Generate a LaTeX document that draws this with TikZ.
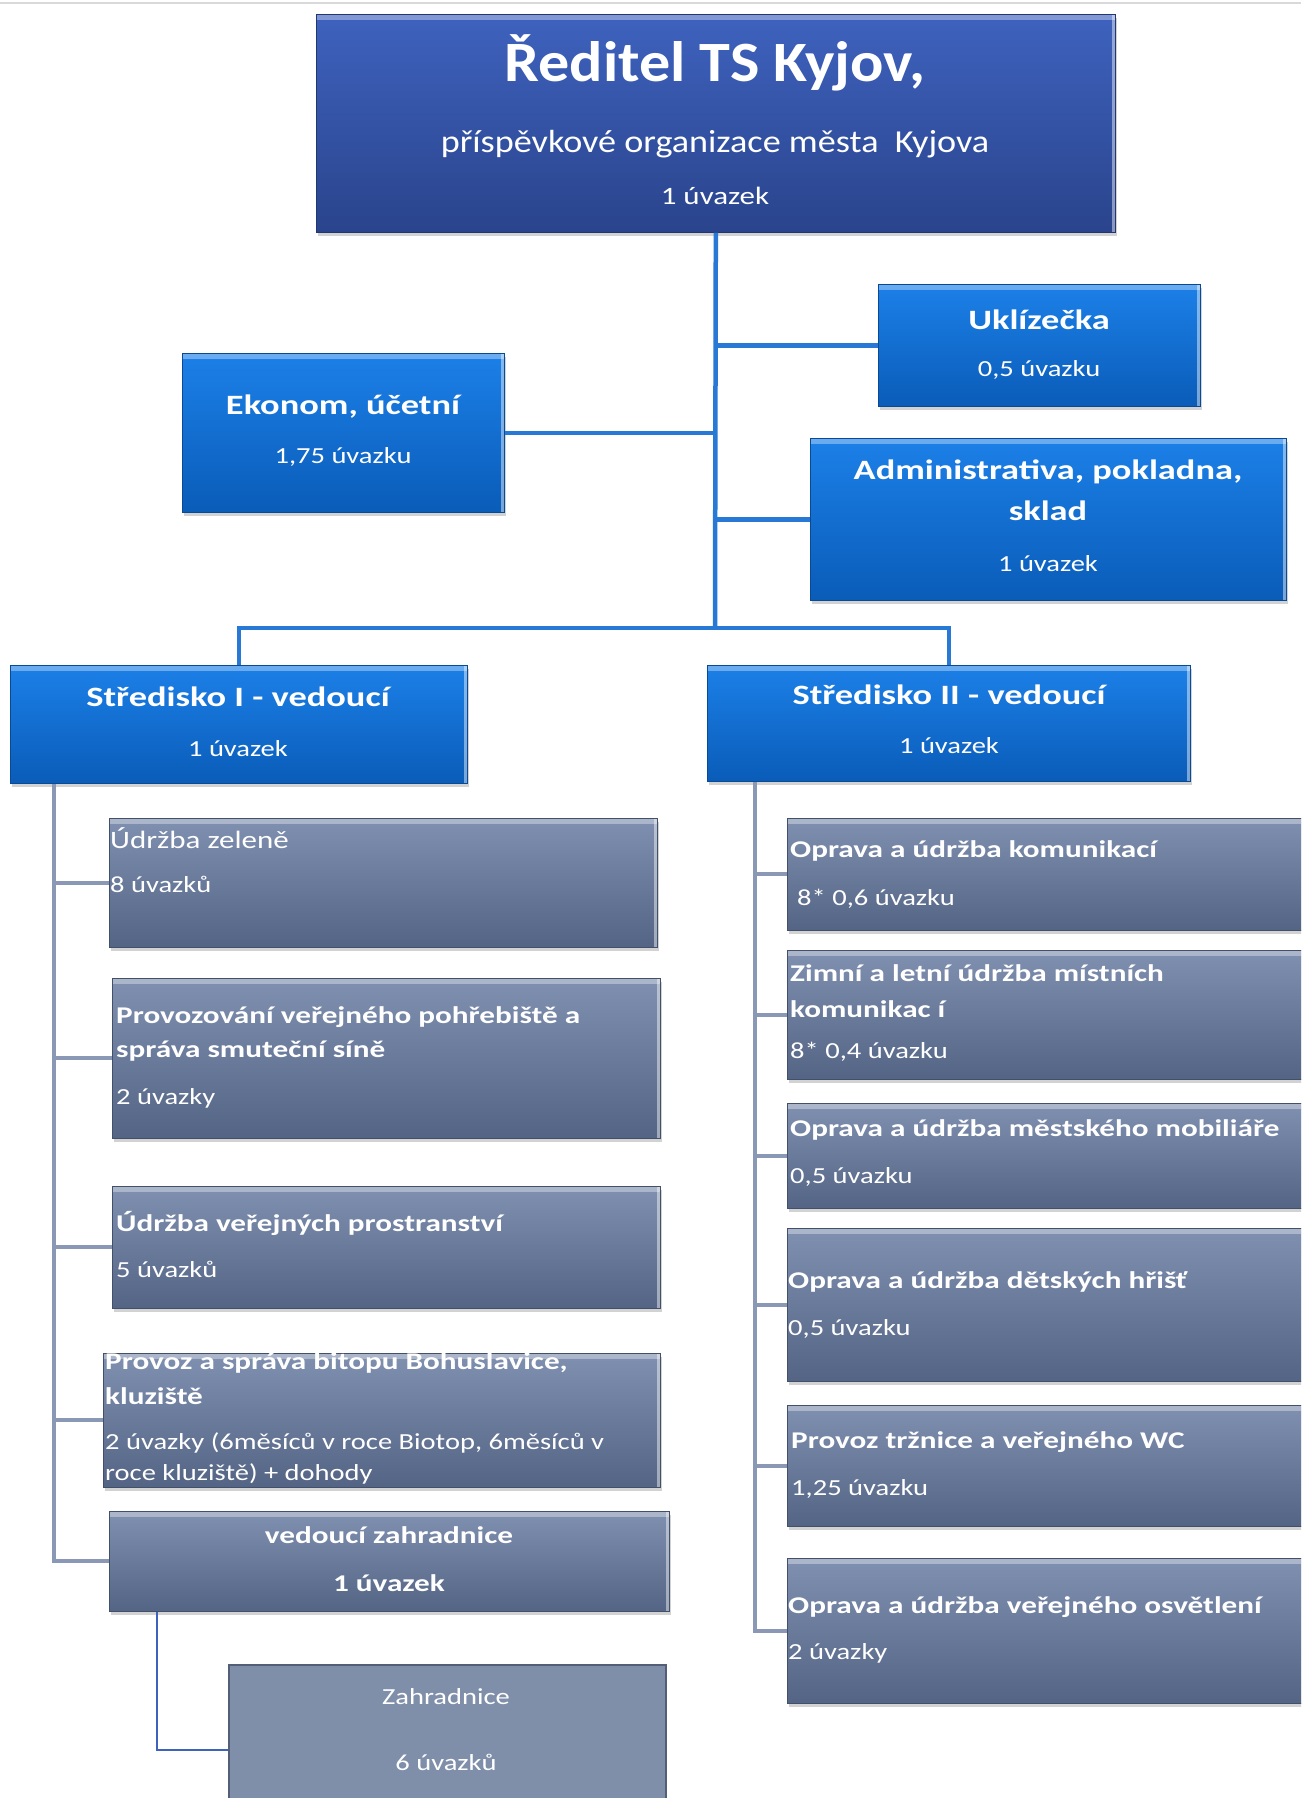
\documentclass[tikz,border=0pt]{standalone}
\usepackage{fontspec}
\setmainfont{Carlito}[FakeStretch=1.24,BoldFeatures={FakeStretch=1.3}]
\newfontfamily\headfont{Carlito}[FakeStretch=1.09]
\newfontfamily\subfont{Carlito}[FakeStretch=1.13]
\usetikzlibrary{positioning,shadows}
\definecolor{dirtop}{RGB}{62,98,190}
\definecolor{dirbot}{RGB}{42,68,140}
\definecolor{unittop}{RGB}{28,128,232}
\definecolor{unitbot}{RGB}{10,92,184}
\definecolor{tasktop}{RGB}{128,144,176}
\definecolor{taskbot}{RGB}{84,100,132}
\definecolor{linkblue}{RGB}{40,120,214}
\definecolor{linkgray}{RGB}{138,152,182}
\definecolor{zahrfill}{RGB}{127,143,170}
\definecolor{zahrdraw}{RGB}{84,94,118}

\begin{document}
\begin{tikzpicture}[x=1pt,y=-1pt,
    bevel/.style={path picture={
        \fill[white,opacity=0.35] (path picture bounding box.north west) rectangle ([yshift=-6pt]path picture bounding box.north east);
        \fill[white,opacity=0.45] ([xshift=-3pt]path picture bounding box.north east) rectangle (path picture bounding box.south east);}},
    box/.style={rectangle,anchor=north west,inner sep=0pt,line width=0.6pt,bevel,
        drop shadow={opacity=0.35,shadow xshift=2pt,shadow yshift=-4pt}},
    boss node/.style={box,top color=dirtop,bottom color=dirbot,draw=dirbot!80!black},
    unit node/.style={box,top color=unittop,bottom color=unitbot,draw=unitbot!80!black},
    task node/.style={box,top color=tasktop,bottom color=taskbot,draw=taskbot!80!black},
    txt/.style={text=white,inner sep=0pt,font=\fontsize{23}{26}\selectfont},
    ttl/.style={txt,font=\bfseries\fontsize{24}{27}\selectfont},
    big/.style={txt,font=\bfseries\fontsize{28}{31}\selectfont},
    bluelink/.style={draw=linkblue,line width=4.5pt},
    graylink/.style={draw=linkgray,line width=4pt}]
  \clip (0,0) rectangle (1301,1798);
  \fill[white] (0,0) rectangle (1301,1798);
  \draw[black!15,line width=1.5pt] (0,3) -- (1301,3);

  \coordinate (bus) at (715,628);
  \coordinate (s1) at (54,0);
  \coordinate (s2) at (755,0);
  \coordinate (zl) at (157,1750);

  % upper part
  \node[boss node,minimum width=799,minimum height=218] (dir) at (316,14) {};
  \node[unit node,minimum width=322,minimum height=122] (ukl) at (878,284) {};
  \node[unit node,minimum width=322,minimum height=159] (eko) at (182,353) {};
  \node[unit node,minimum width=476,minimum height=162] (adm) at (810,438) {};
  \node[unit node,minimum width=457,minimum height=118] (st1) at (10,665) {};
  \node[unit node,minimum width=483,minimum height=116] (st2) at (707,665) {};

  % left column
  \node[task node,minimum width=548,minimum height=129] (zel) at (109,818) {};
  \node[task node,minimum width=548,minimum height=160] (poh) at (112,978) {};
  \node[task node,minimum width=548,minimum height=122] (pros) at (112,1186) {};
  \node[task node,minimum width=557,minimum height=134] (bio) at (103,1353) {};
  \node[task node,minimum width=560,minimum height=100] (vedz) at (109,1511) {};
  \node[rectangle,anchor=north west,fill=zahrfill,draw=zahrdraw,line width=2pt,
        minimum width=437,minimum height=150] (zahr) at (228,1664) {};

  % right column
  \node[task node,minimum width=540,minimum height=112] (kom) at (787,818) {};
  \node[task node,minimum width=540,minimum height=129] (zim) at (787,950) {};
  \node[task node,minimum width=540,minimum height=105] (mob) at (787,1103) {};
  \node[task node,minimum width=540,minimum height=153] (hri) at (787,1228) {};
  \node[task node,minimum width=540,minimum height=121] (trz) at (787,1405) {};
  \node[task node,minimum width=540,minimum height=145] (osv) at (787,1558) {};

  \path[bluelink] (dir.south) -- (bus);
  \path[bluelink] (st1.north) |- (bus) -| (st2.north);
  \path[bluelink] (ukl.west) -- (ukl.west -| dir.south);
  \path[bluelink] (eko.east) -- (eko.east -| dir.south);
  \path[bluelink] (adm.west) -- (adm.west -| dir.south);

  \path[graylink] (st1.south -| s1) |- (vedz.west);
  \path[graylink] (zel.west) -- (zel.west -| s1);
  \path[graylink] (poh.west) -- (poh.west -| s1);
  \path[graylink] (pros.west) -- (pros.west -| s1);
  \path[graylink] (bio.west) -- (bio.west -| s1);

  \path[graylink] (st2.south -| s2) |- (osv.west);
  \path[graylink] (kom.west) -- (kom.west -| s2);
  \path[graylink] (zim.west) -- (zim.west -| s2);
  \path[graylink] (mob.west) -- (mob.west -| s2);
  \path[graylink] (hri.west) -- (hri.west -| s2);
  \path[graylink] (trz.west) -- (trz.west -| s2);

  \path[draw=dirtop,line width=1.5pt] (vedz.south -| zl) -- (zl) -- (zahr.west |- zl);

  % texts
  \node[txt,font=\headfont\bfseries\fontsize{57}{60}\selectfont] (dirA) at (715,63) {Ředitel TS Kyjov,};
  \node[txt,font=\subfont\fontsize{32}{36}\selectfont] (dirB) at (715,144) {příspěvkové organizace města\ \ Kyjova};
  \node[txt,font=\fontsize{25}{28}\selectfont] (dirC) at (715,196) {1 úvazek};

  \node[big] (uklA) at (1039,320) {Uklízečka};
  \node[txt] (uklB) at (1039,370) {0,5 úvazku};
  \node[big] (ekoA) at (343,407) {Ekonom, účetní};
  \node[txt] (ekoB) at (343,457) {1,75 úvazku};
  \node[big] (admA) at (1048,472) {Administrativa, pokladna,};
  \node[big] (admB) at (1048,511) {sklad};
  \node[txt] (admC) at (1048,564) {1 úvazek};
  \node[big] (st1A) at (238,697) {Středisko I - vedoucí};
  \node[txt] (st1B) at (238,749) {1 úvazek};
  \node[big] (st2A) at (949,695) {Středisko II - vedoucí};
  \node[txt] (st2B) at (949,746) {1 úvazek};

  \node[txt,anchor=west,font=\fontsize{25}{28}\selectfont] (zelA) at (110,838) {Údržba zeleně};
  \node[txt,anchor=west] (zelB) at (110,884) {8 úvazků};
  \node[ttl,anchor=west] (pohA) at (116,1017) {Provozování veřejného pohřebiště a};
  \node[ttl,anchor=west] (pohB) at (116,1051) {správa smuteční síně};
  \node[txt,anchor=west] (pohC) at (116,1098) {2 úvazky};
  \node[ttl,anchor=west] (prosA) at (116,1223) {Údržba veřejných prostranství};
  \node[txt,anchor=west] (prosB) at (116,1269) {5 úvazků};
  \node[ttl,anchor=west] (bioA) at (105,1363) {Provoz a správa bitopu Bohuslavice,};
  \node[ttl,anchor=west] (bioB) at (105,1396) {kluziště};
  \node[txt,anchor=west] (bioC) at (105,1443) {2 úvazky (6měsíců v roce Biotop, 6měsíců v};
  \node[txt,anchor=west] (bioD) at (105,1474) {roce kluziště) + dohody};
  \node[ttl] (vedzA) at (389,1535) {vedoucí zahradnice};
  \node[ttl] (vedzB) at (389,1583) {1 úvazek};
  \node[txt] (zahrA) at (446,1697) {Zahradnice};
  \node[txt] (zahrB) at (446,1762) {6 úvazků};

  \node[ttl,anchor=west] (komA) at (790,851) {Oprava a údržba komunikací};
  \node[txt,anchor=west] (komB) at (797,899) {8* 0,6 úvazku};
  \node[ttl,anchor=west] (zimA) at (790,973) {Zimní a letní údržba místních};
  \node[ttl,anchor=west] (zimB) at (790,1009) {komunikac í};
  \node[txt,anchor=west] (zimC) at (790,1052) {8* 0,4 úvazku};
  \node[ttl,anchor=west] (mobA) at (790,1130) {Oprava a údržba městského mobiliáře};
  \node[txt,anchor=west] (mobB) at (790,1177) {0,5 úvazku};
  \node[ttl,anchor=west] (hriA) at (788,1282) {Oprava a údržba dětských hřišť};
  \node[txt,anchor=west] (hriB) at (788,1329) {0,5 úvazku};
  \node[ttl,anchor=west] (trzA) at (791,1442) {Provoz tržnice a veřejného WC};
  \node[txt,anchor=west] (trzB) at (791,1489) {1,25 úvazku};
  \node[ttl,anchor=west] (osvA) at (788,1607) {Oprava a údržba veřejného osvětlení};
  \node[txt,anchor=west] (osvB) at (788,1653) {2 úvazky};
\end{tikzpicture}
\end{document}
